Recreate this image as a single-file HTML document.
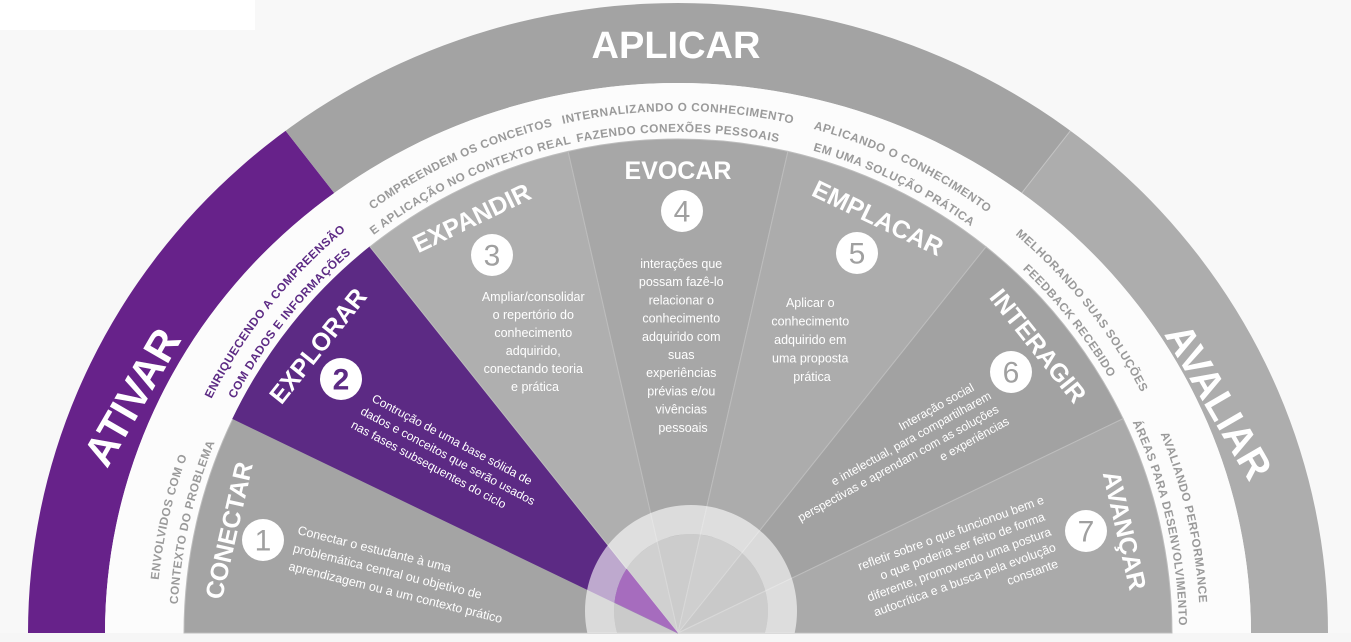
<!DOCTYPE html>
<html><head><meta charset="utf-8">
<style>
html,body{margin:0;padding:0;background:#f8f8f8;width:1351px;height:642px;overflow:hidden;}
svg{display:block;}
text{font-family:"Liberation Sans",Arial,sans-serif;}
.t{fill:#fff;font-weight:bold;font-size:25px;}
.d{fill:#fff;font-size:12.5px;}
.r{fill:#9a9a9a;font-weight:bold;font-size:11.8px;letter-spacing:0.5px;}
.n{font-size:30px;fill:#a0a0a0;}
</style></head>
<body>
<svg width="1351" height="642" viewBox="0 0 1351 642" xmlns="http://www.w3.org/2000/svg">
<defs>
  <clipPath id="band"><path d="M28,633 A650,630 0 0 1 1328,633 L1251,633 A573,550 0 0 0 105,633 Z"/></clipPath>
  <clipPath id="bot"><rect x="0" y="0" width="1351" height="633"/></clipPath>
  <clipPath id="inner"><circle cx="691" cy="611" r="77"/></clipPath>
  <path id="p1" d="M156,633 A522,522 0 0 1 1200,633"/>
  <path id="p2" d="M177,633 A501,501 0 0 1 1179,633"/>
</defs>
<rect x="0" y="0" width="255" height="30" fill="#ffffff"/>
<rect x="0" y="633" width="1351" height="9" fill="#f6f6f6"/>

<g clip-path="url(#band)">
  <polygon points="678,633 -20,633 -20,-100 123.9,-76.2" fill="#67228a"/>
  <polygon points="678,633 123.9,-76.2 1232.1,-76.2" fill="#a3a3a3"/>
  <polygon points="678,633 1232.1,-76.2 1400,-100 1400,633" fill="#adadad"/>
  <line x1="678" y1="633" x2="1232.1" y2="-76.2" stroke="#c4c4c4" stroke-width="1"/>
</g>
<path d="M105,633 A573,550 0 0 1 1251,633 Z" fill="#fcfcfc"/>

<g stroke="#bdbdbd" stroke-width="1">
<path d="M678,633 L184,633 A494,494 0 0 1 232.9,418.7 Z" fill="#a4a4a4"/>
<path d="M678,633 L232.9,418.7 A494,494 0 0 1 370,246.8 Z" fill="#5c2a84" stroke="#5c2a84"/>
<path d="M678,633 L370,246.8 A494,494 0 0 1 568.1,151.4 Z" fill="#afafaf"/>
<path d="M678,633 L568.1,151.4 A494,494 0 0 1 787.9,151.4 Z" fill="#a7a7a7"/>
<path d="M678,633 L787.9,151.4 A494,494 0 0 1 986,246.8 Z" fill="#acacac"/>
<path d="M678,633 L986,246.8 A494,494 0 0 1 1123.1,418.7 Z" fill="#a2a2a2"/>
<path d="M678,633 L1123.1,418.7 A494,494 0 0 1 1172,633 Z" fill="#aaaaaa"/>
</g>

<g clip-path="url(#bot)">
  <path d="M585,611 A106,106 0 1 0 797,611 A106,106 0 1 0 585,611 Z M614,611 A77,77 0 1 1 768,611 A77,77 0 1 1 614,611 Z" fill-rule="evenodd" fill="#ffffff" fill-opacity="0.6"/>
  <circle cx="691" cy="611" r="77" fill="#ffffff" fill-opacity="0.42"/>
  <path d="M678,633 L232.9,418.7 L370,246.8 Z" fill="#a66cbe" clip-path="url(#inner)"/>
</g>

<text x="676" y="46" class="t" text-anchor="middle" dominant-baseline="central" style="font-size:38px">APLICAR</text>
<text transform="translate(132,397) rotate(-60)" class="t" text-anchor="middle" dominant-baseline="central" style="font-size:42px">ATIVAR</text>
<text transform="translate(1218,402) rotate(60)" class="t" text-anchor="middle" dominant-baseline="central" style="font-size:40px">AVALIAR</text>

<text class="r"><textPath href="#p1" startOffset="7.14%" text-anchor="middle">ENVOLVIDOS COM O</textPath></text>
<text class="r"><textPath href="#p2" startOffset="7.14%" text-anchor="middle">CONTEXTO DO PROBLEMA</textPath></text>
<text class="r" style="fill:#5c2a84"><textPath href="#p1" startOffset="21.43%" text-anchor="middle">ENRIQUECENDO A COMPREENSÃO</textPath></text>
<text class="r" style="fill:#5c2a84"><textPath href="#p2" startOffset="21.43%" text-anchor="middle">COM DADOS E INFORMAÇÕES</textPath></text>
<text class="r"><textPath href="#p1" startOffset="36.2%" text-anchor="middle">COMPREENDEM OS CONCEITOS</textPath></text>
<text class="r"><textPath href="#p2" startOffset="36.2%" text-anchor="middle">E APLICAÇÃO NO CONTEXTO REAL</textPath></text>
<text class="r"><textPath href="#p1" startOffset="50%" text-anchor="middle">INTERNALIZANDO O CONHECIMENTO</textPath></text>
<text class="r"><textPath href="#p2" startOffset="50%" text-anchor="middle">FAZENDO CONEXÕES PESSOAIS</textPath></text>
<text class="r"><textPath href="#p1" startOffset="64.29%" text-anchor="middle">APLICANDO O CONHECIMENTO</textPath></text>
<text class="r"><textPath href="#p2" startOffset="64.29%" text-anchor="middle">EM UMA SOLUÇÃO PRÁTICA</textPath></text>
<text class="r"><textPath href="#p1" startOffset="78.57%" text-anchor="middle">MELHORANDO SUAS SOLUÇÕES</textPath></text>
<text class="r"><textPath href="#p2" startOffset="78.57%" text-anchor="middle">FEEDBACK RECEBIDO</textPath></text>
<text class="r"><textPath href="#p1" startOffset="92.86%" text-anchor="middle">AVALIANDO PERFORMANCE</textPath></text>
<text class="r"><textPath href="#p2" startOffset="92.86%" text-anchor="middle">ÁREAS PARA DESENVOLVIMENTO</textPath></text>

<text class="t" transform="translate(229.5,530.6) rotate(-77.1)" text-anchor="middle" dominant-baseline="central">CONECTAR</text>
<text class="t" transform="translate(318.4,346.2) rotate(-51.4)" text-anchor="middle" dominant-baseline="central">EXPLORAR</text>
<text class="t" transform="translate(472,218.5) rotate(-25.7)" text-anchor="middle" dominant-baseline="central">EXPANDIR</text>
<text class="t" transform="translate(678,171) rotate(0)" text-anchor="middle" dominant-baseline="central">EVOCAR</text>
<text class="t" transform="translate(877.6,218.5) rotate(25.7)" text-anchor="middle" dominant-baseline="central">EMPLACAR</text>
<text class="t" transform="translate(1037.6,346.2) rotate(51.4)" text-anchor="middle" dominant-baseline="central">INTERAGIR</text>
<text class="t" transform="translate(1124,530.6) rotate(77.1)" text-anchor="middle" dominant-baseline="central">AVANÇAR</text>

<g>
<circle cx="263" cy="540" r="21" fill="#fff"/><text x="263" y="541" class="n" text-anchor="middle" dominant-baseline="central">1</text>
<circle cx="341" cy="379" r="21" fill="#fff"/><text x="341" y="380" class="n" text-anchor="middle" dominant-baseline="central" style="fill:#5c2a84;font-weight:bold">2</text>
<circle cx="492" cy="255" r="21" fill="#fff"/><text x="492" y="256" class="n" text-anchor="middle" dominant-baseline="central">3</text>
<circle cx="682" cy="211" r="21" fill="#fff"/><text x="682" y="212" class="n" text-anchor="middle" dominant-baseline="central">4</text>
<circle cx="857" cy="253" r="21" fill="#fff"/><text x="857" y="254" class="n" text-anchor="middle" dominant-baseline="central">5</text>
<circle cx="1011" cy="372" r="21" fill="#fff"/><text x="1011" y="373" class="n" text-anchor="middle" dominant-baseline="central">6</text>
<circle cx="1086" cy="531" r="21" fill="#fff"/><text x="1086" y="532" class="n" text-anchor="middle" dominant-baseline="central">7</text>
</g>

<text class="d" transform="translate(297,534) rotate(14)">
<tspan x="0" y="0">Conectar o estudante à uma</tspan>
<tspan x="0" y="18.5">problemática central ou objetivo de</tspan>
<tspan x="0" y="37">aprendizagem ou a um contexto prático</tspan>
</text>
<text class="d" transform="translate(371,401) rotate(28)" style="font-size:12px">
<tspan x="0" y="0">Contrução de uma base sólida de</tspan>
<tspan x="-4" y="16.5">dados e conceitos que serão usados</tspan>
<tspan x="-6" y="33">nas fases subsequentes do ciclo</tspan>
</text>
<text class="d" text-anchor="middle">
<tspan x="535" y="301">Ampliar/consolidar</tspan>
<tspan x="535" y="319">o repertório do</tspan>
<tspan x="535" y="337">conhecimento</tspan>
<tspan x="535" y="355">adquirido,</tspan>
<tspan x="535" y="373">conectando teoria</tspan>
<tspan x="535" y="391">e prática</tspan>
</text>
<text class="d" text-anchor="middle">
<tspan x="683" y="268">interações que</tspan>
<tspan x="683" y="286.2">possam fazê-lo</tspan>
<tspan x="683" y="304.4">relacionar o</tspan>
<tspan x="683" y="322.6">conhecimento</tspan>
<tspan x="683" y="340.8">adquirido com</tspan>
<tspan x="683" y="359">suas</tspan>
<tspan x="683" y="377.2">experiências</tspan>
<tspan x="683" y="395.4">prévias e/ou</tspan>
<tspan x="683" y="413.6">vivências</tspan>
<tspan x="683" y="431.8">pessoais</tspan>
</text>
<text class="d" text-anchor="middle">
<tspan x="812" y="307">Aplicar o</tspan>
<tspan x="812" y="325.5">conhecimento</tspan>
<tspan x="812" y="344">adquirido em</tspan>
<tspan x="812" y="362.5">uma proposta</tspan>
<tspan x="812" y="381">prática</tspan>
</text>
<text class="d" transform="translate(987.5,383) rotate(-29)" text-anchor="end" style="font-size:12px">
<tspan x="-11" y="0">Interação social</tspan>
<tspan x="0" y="15.5">e intelectual, para compartilharem</tspan>
<tspan x="0" y="31">perspectivas e aprendam com as soluções</tspan>
<tspan x="0" y="46.5">e experiências</tspan>
</text>
<text class="d" transform="translate(1048,502) rotate(-20)" text-anchor="end" style="font-size:12.3px">
<tspan x="0" y="0">refletir sobre o que funcionou bem e</tspan>
<tspan x="-5" y="16.2">o que poderia ser feito de forma</tspan>
<tspan x="-4" y="32.4">diferente, promovendo uma postura</tspan>
<tspan x="-5" y="48.6">autocrítica e a busca pela evolução</tspan>
<tspan x="-12" y="64.8">constante</tspan>
</text>
</svg>
</body></html>
